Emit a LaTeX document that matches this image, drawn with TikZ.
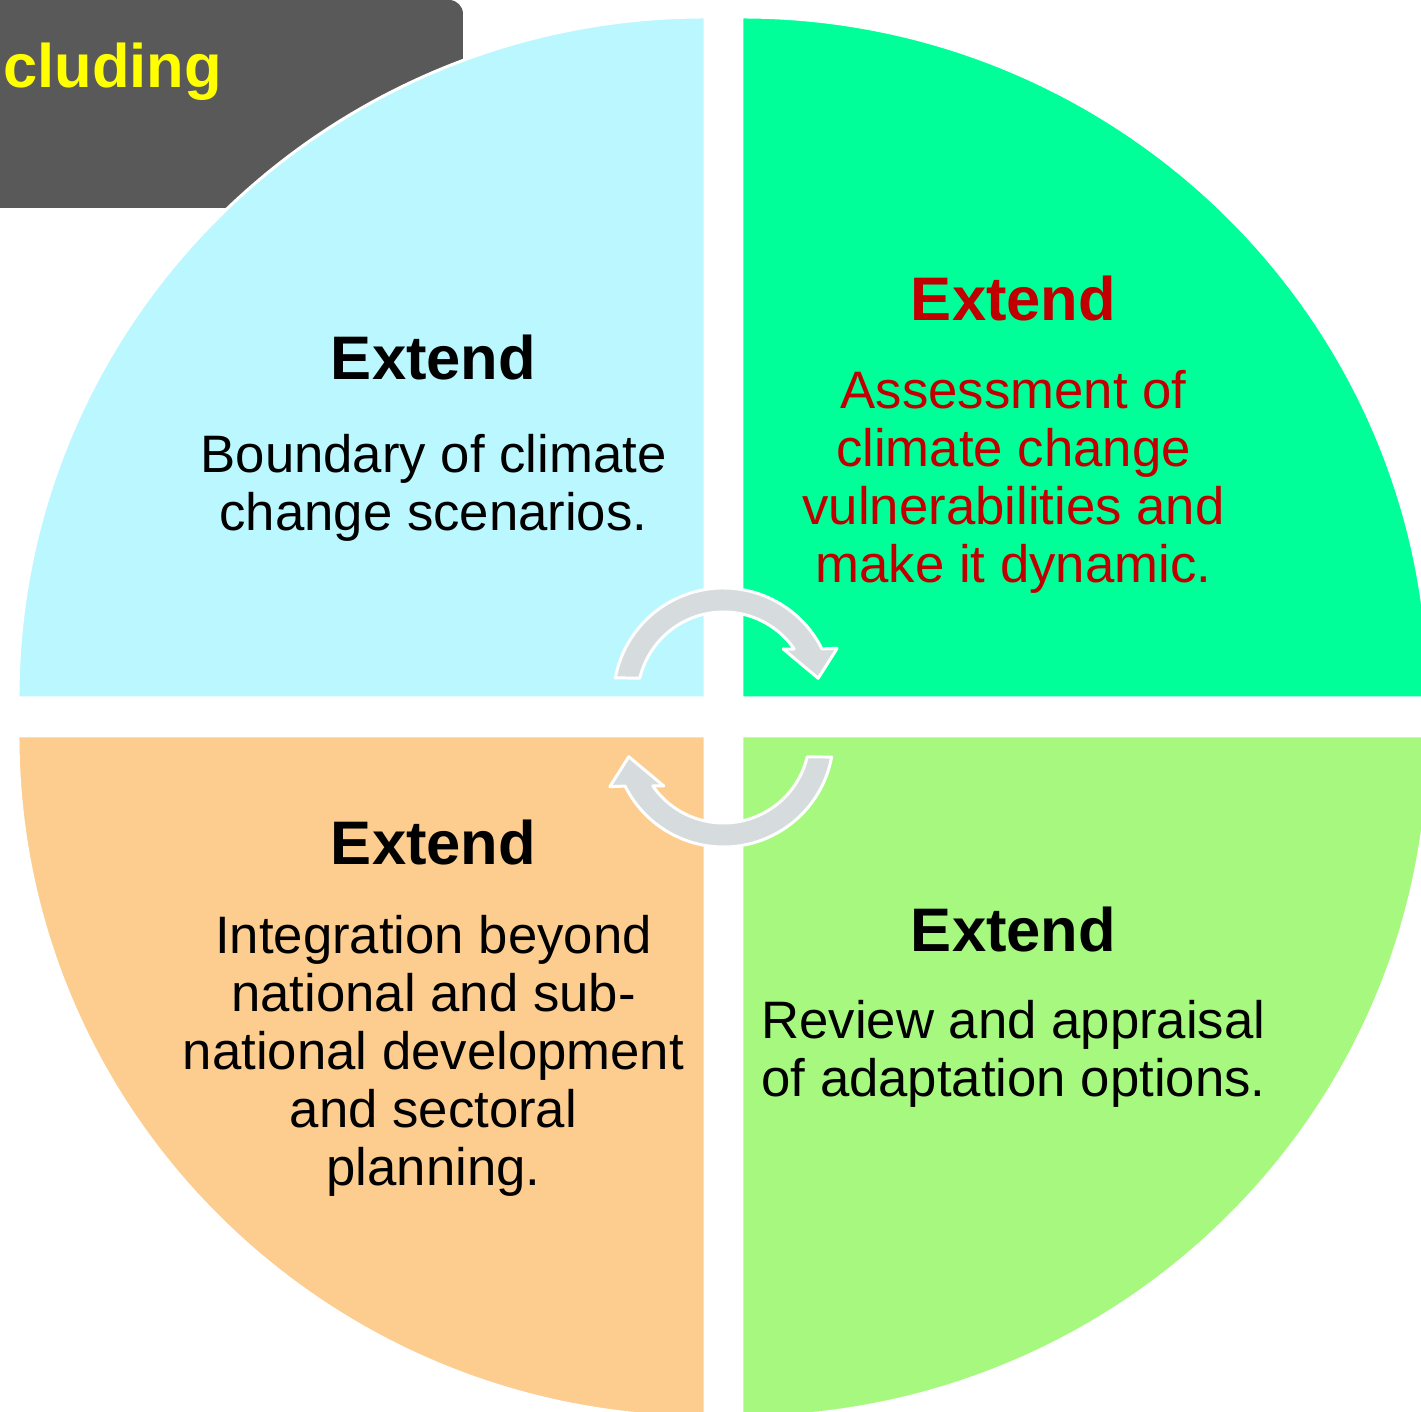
\documentclass[tikz,border=0pt]{standalone}
\usepackage{fontspec}
\setmainfont{Liberation Sans}
\usepackage{tikz}
\definecolor{quadcyan}{RGB}{187,247,254}
\definecolor{quadgreen}{RGB}{0,255,153}
\definecolor{quadorange}{RGB}{252,205,143}
\definecolor{quadlime}{RGB}{166,249,126}
\definecolor{tabgray}{RGB}{89,89,89}
\definecolor{tabyellow}{RGB}{255,255,0}
\definecolor{arrowgray}{RGB}{214,220,222}
\definecolor{textred}{RGB}{192,0,0}

\begin{document}
\begin{tikzpicture}[x=0.02cm,y=0.02cm]
		\tikzstyle{quarter}=[draw=white,line width=1.7pt]
		\tikzstyle{cycle-arrow}=[fill=arrowgray,draw=white,line width=1.7pt,line join=round]
		\tikzstyle{head}=[font=\fontsize{35}{40}\selectfont\bfseries,anchor=base,inner sep=0pt]
		\tikzstyle{body}=[font=\fontsize{30}{33}\selectfont,align=center,anchor=base,inner sep=0pt]
		\useasboundingbox (-723.5,-694.5) rectangle (697.5,717.5);
		\clip (-723.5,-694.5) rectangle (697.5,717.5);
		% tab behind the circle
		\fill [tabgray,rounded corners=7.9pt] (-760,509.5) rectangle (-260.5,717.5);
		\node [anchor=base west,inner sep=0pt,font=\fontsize{35}{40}\selectfont\bfseries,text=tabyellow] (tab) at (-720.5,629.5) {cluding};
		% quarters
		\draw [quarter,fill=quadcyan] (-18.5,19.5) -- ++(-687,0) arc[start angle=180,end angle=90,x radius=687,y radius=681] -- cycle;
		\draw [quarter,fill=quadgreen] (18.5,19.5) -- ++(0,681) arc[start angle=90,end angle=0,x radius=687,y radius=681] -- cycle;
		\draw [quarter,fill=quadlime] (18.5,-18.5) -- ++(687,0) arc[start angle=0,end angle=-90,x radius=687,y radius=681] -- cycle;
		\draw [quarter,fill=quadorange] (-18.5,-18.5) -- ++(0,-681) arc[start angle=270,end angle=180,x radius=687,y radius=681] -- cycle;
		% turning arrows
		\foreach \turn in {0,180}
			\draw [cycle-arrow,rotate=\turn,shift={(0,19.5)}] (169.5:110) arc[start angle=169.5,end angle=26.5,radius=110] -- (113.7,49.7) -- (94.7,19.7) -- (59.7,49) -- (34.7:86) arc[start angle=34.7,end angle=166.6,radius=86] -- cycle;
		% texts (body nodes sit on their last line)
		\node [head] (h1) at (-290,337.5) {Extend};
		\node [body] (b1) at (-290,187.3) {Boundary of climate\\change scenarios.};
		\node [head,text=textred] (h2) at (290,396.5) {Extend};
		\node [body,text=textred] (b2) at (290,134.9) {Assessment of\\climate change\\vulnerabilities and\\make it dynamic.};
		\node [head] (h3) at (-290,-147.5) {Extend};
		\node [body] (b3) at (-290,-468.3) {Integration beyond\\national and sub-\\national development\\and sectoral\\planning.};
		\node [head] (h4) at (290,-234.5) {Extend};
		\node [body] (b4) at (290,-378.7) {Review and appraisal\\of adaptation options.};
	\end{tikzpicture}
\end{document}
